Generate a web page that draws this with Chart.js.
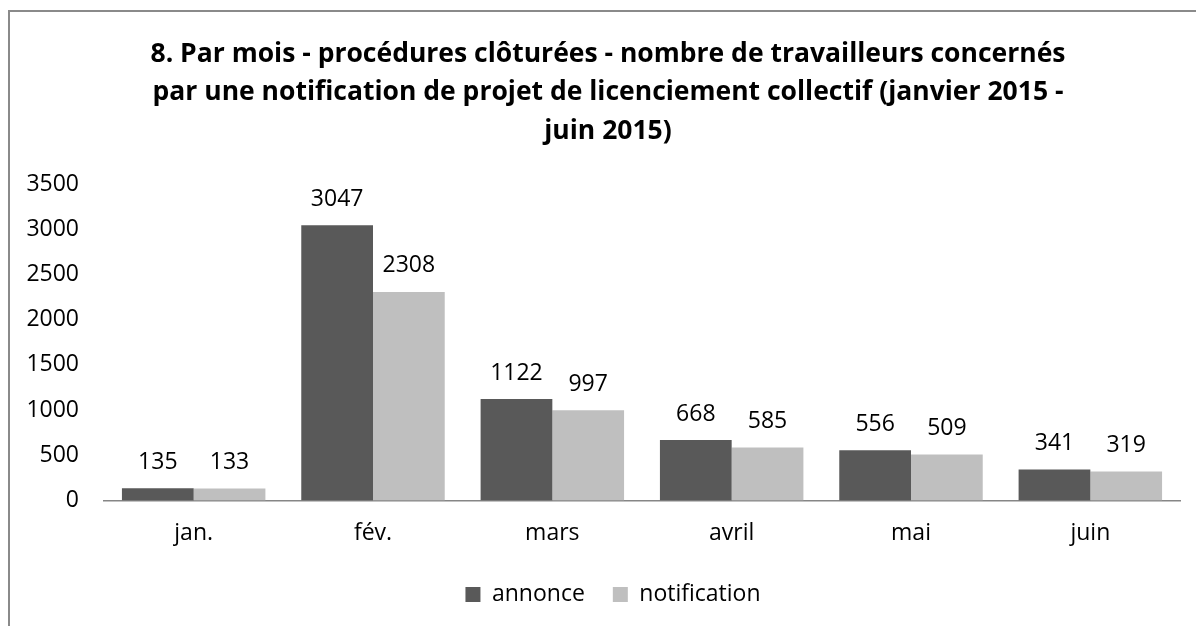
<!DOCTYPE html>
<html>
<head>
<meta charset="utf-8">
<script src="https://cdn.jsdelivr.net/npm/chart.js@4"></script>
<style>
  body { margin: 0; background: #fff; }
  #wrap { position: relative; width: 1196px; height: 626px; overflow: hidden; }
  #frame { position: absolute; left: 8px; top: 10px; width: 1300px; height: 800px;
           border-left: 2px solid #8a8a8a; border-top: 2px solid #8a8a8a; }
  canvas { position: absolute; left: 0; top: 0; }
</style>
</head>
<body>
<div id="wrap">
  <div id="frame"></div>
  <canvas id="chart" width="1196" height="626"></canvas>
</div>
<script>
const DARK_GREY = "#595959";
const LIGHT_GREY = "#bfbfbf";
const FONT = "'Open Sans', 'Noto Sans', sans-serif";

const months = ["jan.", "fév.", "mars", "avril", "mai", "juin"];
const annonce = [135, 3047, 1122, 668, 556, 341];
const notification = [133, 2308, 997, 585, 509, 319];
const titleLines = [
  "8. Par mois - procédures clôturées - nombre de travailleurs concernés",
  "par une notification de projet de licenciement collectif (janvier 2015 -",
  "juin 2015)",
];

// value labels above each bar
const barValuesPlugin = {
  id: "barValues",
  afterDatasetsDraw: (chart) => {
    const { ctx } = chart;
    ctx.save();
    ctx.font = `23px ${FONT}`;
    ctx.fillStyle = "#000";
    ctx.textAlign = "center";
    ctx.textBaseline = "middle";
    chart.data.datasets.forEach((ds, i) => {
      chart.getDatasetMeta(i).data.forEach((bar, j) => {
        ctx.fillText(ds.data[j], bar.x, bar.y - 26);
      });
    });
    ctx.restore();
  },
};

// title and legend sit a little right of the canvas centre in the original
const nudgePlugin = {
  id: "nudge",
  afterLayout: (chart) => {
    chart.titleBlock.left += 18;
    chart.titleBlock.right += 0;
    chart.legend.left += 14;
    chart.legend.right += 14;
  },
};

new Chart(document.getElementById("chart"), {
  type: "bar",
  data: {
    labels: months,
    datasets: [
      { label: "annonce", data: annonce, backgroundColor: DARK_GREY },
      { label: "notification", data: notification, backgroundColor: LIGHT_GREY },
    ],
  },
  options: {
    responsive: false,
    animation: false,
    layout: { padding: { left: 18, right: 16, top: 0, bottom: 10 } },
    datasets: { bar: { categoryPercentage: 0.8, barPercentage: 1 } },
    plugins: {
      title: {
        display: true,
        text: titleLines,
        color: "#000",
        font: { family: FONT, size: 26.5, weight: "bold", lineHeight: 1.45 },
        padding: { top: 35, bottom: 34 },
      },
      legend: {
        position: "bottom",
        labels: {
          color: "#000",
          font: { family: FONT, size: 23 },
          boxWidth: 15,
          boxHeight: 15,
          padding: 28,
        },
      },
      tooltip: { enabled: false },
    },
    scales: {
      x: {
        afterFit: (scale) => { scale.height -= 11; },
        grid: { display: false, drawTicks: false },
        border: { display: true, color: "#868686", width: 1.5 },
        ticks: { color: "#000", font: { family: FONT, size: 23 }, padding: 19 },
      },
      y: {
        min: 0,
        max: 3500,
        afterFit: (scale) => { scale.width = 86; },
        grid: { display: false, drawTicks: false },
        border: { display: false },
        ticks: {
          stepSize: 500,
          color: "#000",
          font: { family: FONT, size: 23 },
          padding: 25,
          callback: (v) => String(v),
        },
      },
    },
  },
  plugins: [barValuesPlugin, nudgePlugin],
});
</script>
</body>
</html>
